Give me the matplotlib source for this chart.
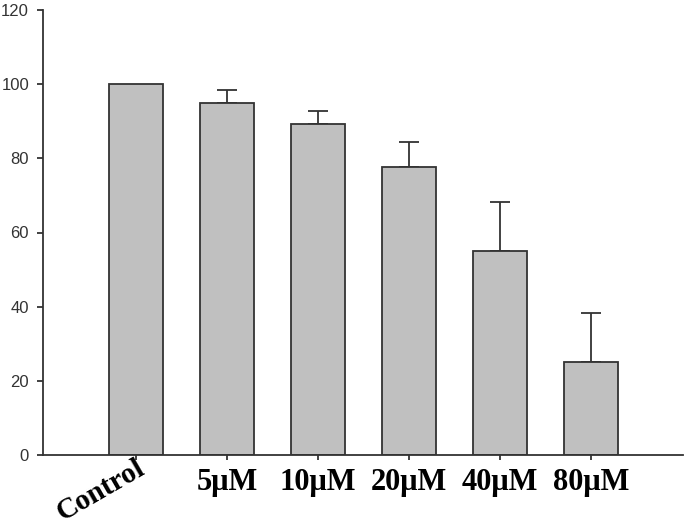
import numpy as np
import matplotlib.pyplot as plt

# data
groups = ["Control", "5μM", "10μM", "20μM", "40μM", "80μM"]
viability = [100, 94.8, 89.2, 77.7, 55.1, 25.1]
err_up = [0, 3.6, 3.6, 6.7, 13.2, 13.2]

fig = plt.figure(figsize=(6.85, 5.25), dpi=100)
ax = fig.add_axes([43/685, 70/525, 640/685, 445/525])

x = np.arange(len(groups))
ax.bar(x, viability, width=0.6, color="#c0c0c0", edgecolor="#333333", linewidth=1.3, zorder=2)
# only upper error bars, none on control
yerr = np.array([np.zeros(len(err_up)), err_up])
ax.errorbar(x[1:], viability[1:], yerr=yerr[:, 1:], fmt="none", ecolor="#333333",
            elinewidth=1.3, capsize=7, capthick=1.3, zorder=1)

ax.set_xlim(-1.02, 6.01)
ax.set_ylim(0, 120)
ax.set_yticks(np.arange(0, 121, 20))
ax.set_xticks(x)
ax.set_xticklabels(groups)

for s in ["top", "right"]:
    ax.spines[s].set_visible(False)
for s in ["left", "bottom"]:
    ax.spines[s].set_color("#333333")
    ax.spines[s].set_linewidth(1.3)

ax.tick_params(axis="y", direction="out", length=4, width=1.3, color="#333333",
               labelsize=12, labelcolor="#333333", pad=6)
ax.tick_params(axis="x", direction="out", length=3.6, width=1.3, color="#333333", pad=6)
for lab in ax.get_yticklabels():
    lab.set_fontfamily("Liberation Sans")

for i, lab in enumerate(ax.get_xticklabels()):
    lab.set_fontfamily("Liberation Serif")
    lab.set_fontweight("bold")
    lab.set_fontsize(22)
    lab.set_color("black")
    if i == 0:
        lab.set_fontsize(21)
        lab.set_rotation(30)
        lab.set_ha("right")
        lab.set_rotation_mode("anchor")
        lab.set_va("top")
        lab.set_x(0.13)
ax.xaxis.get_major_ticks()[0].set_pad(-4)

fig.savefig("out.png", dpi=100)
